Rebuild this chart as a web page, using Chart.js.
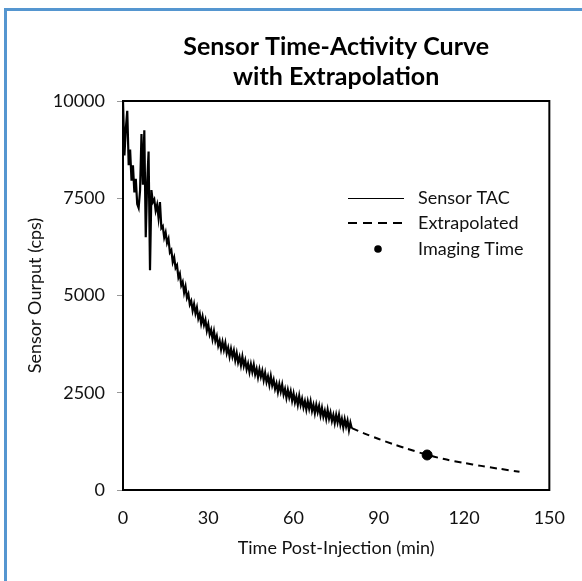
<!DOCTYPE html>
<html lang="en">
  <head>
    <meta charset="UTF-8" />
    <title>Sensor Time-Activity Curve</title>
    <script src="https://cdn.jsdelivr.net/npm/chart.js"></script>
    <style>
      body {
        margin: 0;
        padding: 0;
        background: #fff;
        overflow: hidden;
      }
      .frame {
        position: absolute;
        left: 4px;
        top: 8px;
        width: 620px;
        height: 620px;
        border: 3px solid #5596d0;
      }
      #chart {
        position: absolute;
        left: 0;
        top: 0;
      }
    </style>
  </head>
  <body>
    <div class="frame"></div>
    <canvas id="chart" width="582" height="581"></canvas>

    <script>
      // measured sensor curve (min, cps)
      const tacTime = [
        0, 0.5, 1, 1.5, 2, 2.5, 3, 3.5, 4, 4.5,
        5, 5.5, 6, 6.5, 7, 7.5, 8, 8.5, 9, 9.5,
        10, 10.5, 11, 11.5, 12, 12.5, 13, 13.5, 14, 14.5,
        15, 15.5, 16, 16.5, 17, 17.5, 18, 18.5, 19, 19.5,
        20, 20.5, 21, 21.5, 22, 22.5, 23, 23.5, 24, 24.5,
        25, 25.5, 26, 26.5, 27, 27.5, 28, 28.5, 29, 29.5,
        30, 30.5, 31, 31.5, 32, 32.5, 33, 33.5, 34, 34.5,
        35, 35.5, 36, 36.5, 37, 37.5, 38, 38.5, 39, 39.5,
        40, 40.5, 41, 41.5, 42, 42.5, 43, 43.5, 44, 44.5,
        45, 45.5, 46, 46.5, 47, 47.5, 48, 48.5, 49, 49.5,
        50, 50.5, 51, 51.5, 52, 52.5, 53, 53.5, 54, 54.5,
        55, 55.5, 56, 56.5, 57, 57.5, 58, 58.5, 59, 59.5,
        60, 60.5, 61, 61.5, 62, 62.5, 63, 63.5, 64, 64.5,
        65, 65.5, 66, 66.5, 67, 67.5, 68, 68.5, 69, 69.5,
        70, 70.5, 71, 71.5, 72, 72.5, 73, 73.5, 74, 74.5,
        75, 75.5, 76, 76.5, 77, 77.5, 78, 78.5, 79, 79.5,
        80, 80.5
      ];
      const tacCounts = [
        10000, 8600, 9300, 9750, 8350, 8750, 7950, 8350, 7650, 8000,
        7350, 7250, 7700, 9150, 7850, 9250, 6500, 7900, 8700, 5650,
        7710, 7400, 7470, 7180, 7330, 7000, 7400, 6730, 6780, 6490,
        6620, 6350, 6460, 6110, 6170, 5860, 5980, 5710, 5780, 5460,
        5560, 5260, 5350, 5070, 5230, 4940, 5040, 4770, 4860, 4610,
        4780, 4540, 4690, 4410, 4530, 4280, 4460, 4240, 4370, 4100,
        4260, 4000, 4120, 3880, 4080, 3830, 3960, 3710, 3840, 3615,
        3810, 3605, 3780, 3520, 3660, 3430, 3630, 3430, 3585, 3335,
        3520, 3280, 3425, 3205, 3430, 3190, 3335, 3105, 3250, 3030,
        3235, 3035, 3220, 2970, 3115, 2895, 3100, 2910, 3065, 2825,
        3010, 2775, 2920, 2705, 2930, 2690, 2830, 2600, 2740, 2520,
        2725, 2530, 2710, 2455, 2595, 2370, 2570, 2380, 2535, 2295,
        2480, 2250, 2400, 2190, 2420, 2190, 2345, 2125, 2280, 2070,
        2280, 2090, 2280, 2035, 2190, 1975, 2190, 2000, 2160, 1920,
        2110, 1885, 2035, 1830, 2060, 1835, 1990, 1775, 1930, 1720,
        1930, 1740, 1930, 1680, 1830, 1610, 1820, 1630, 1785, 1540,
        1730, 1580
      ];

      // extrapolated tail
      const extTime = [80.5, 85, 90, 95, 100, 107, 113, 120, 126, 132, 139.5];
      const extCounts = [1590, 1450, 1310, 1180, 1060, 905, 795, 695, 620, 550, 470];

      // imaging time marker
      const imgTime = [107];
      const imgCounts = [900];

      const xTicks = [0, 30, 60, 90, 120, 150];
      const yTicks = [0, 2500, 5000, 7500, 10000];

      const FONT = "Lato, 'Liberation Sans', sans-serif";

      const toPoints = (xs, ys) => xs.map((x, i) => ({ x: x, y: ys[i] }));

      // black box round the plot area
      const plotBox = {
        id: "plotBox",
        afterDatasetsDraw(chart) {
          const a = chart.chartArea;
          const c = chart.ctx;
          c.save();
          c.strokeStyle = "#000";
          c.lineWidth = 2;
          c.strokeRect(a.left, a.top, a.right - a.left, a.bottom - a.top);
          c.restore();
        },
      };

      // legend sits inside the plot, like the original
      const innerLegend = {
        id: "innerLegend",
        afterDraw(chart) {
          const a = chart.chartArea;
          const c = chart.ctx;
          const x0 = Math.round(a.left + 225);
          const x1 = x0 + 56;
          const tx = x0 + 70;
          const rows = [Math.round(a.top + 97), Math.round(a.top + 122), Math.round(a.top + 148)];
          c.save();
          c.strokeStyle = "#000";
          c.fillStyle = "#000";

          c.lineWidth = 1;
          c.beginPath();
          c.moveTo(x0, rows[0] + 0.5);
          c.lineTo(x1, rows[0] + 0.5);
          c.stroke();

          c.lineWidth = 2;
          c.setLineDash([9, 6]);
          c.beginPath();
          c.moveTo(x0, rows[1]);
          c.lineTo(x1, rows[1]);
          c.stroke();
          c.setLineDash([]);

          c.beginPath();
          c.arc((x0 + x1) / 2 + 2, rows[2], 3.8, 0, Math.PI * 2);
          c.fill();

          c.font = "18px " + FONT;
          c.textBaseline = "middle";
          c.fillStyle = "#111";
          const names = chart.data.datasets.map((d) => d.label);
          names.forEach((n, i) => c.fillText(n, tx, rows[i]));
          c.restore();
        },
      };

      new Chart(document.getElementById("chart"), {
        type: "scatter",
        data: {
          datasets: [
            {
              label: "Sensor TAC",
              data: toPoints(tacTime, tacCounts),
              showLine: true,
              borderColor: "#000",
              borderWidth: 2.2,
              pointRadius: 0,
              tension: 0,
            },
            {
              label: "Extrapolated",
              data: toPoints(extTime, extCounts),
              showLine: true,
              borderColor: "#000",
              borderWidth: 2,
              borderDash: [7, 5],
              pointRadius: 0,
              tension: 0.3,
            },
            {
              label: "Imaging Time",
              data: toPoints(imgTime, imgCounts),
              pointRadius: 5,
              backgroundColor: "#000",
              borderColor: "#000",
            },
          ],
        },
        options: {
          responsive: false,
          animation: false,
          layout: { padding: { left: 10, right: 30, top: 20, bottom: 20 } },
          plugins: {
            legend: { display: false },
            tooltip: { enabled: false },
            title: {
              display: true,
              fullSize: false,
              text: ["Sensor Time-Activity Curve", "with Extrapolation"],
              color: "#000",
              font: { family: FONT, size: 25, weight: "bold", lineHeight: 1.2 },
              padding: { top: 12, bottom: 9 },
            },
          },
          scales: {
            x: {
              type: "linear",
              min: 0,
              max: 150,
              afterBuildTicks: (s) => {
                s.ticks = xTicks.map((v) => ({ value: v }));
              },
              ticks: {
                color: "#111",
                padding: 17,
                font: { family: FONT, size: 18 },
                callback: (v) => String(v),
              },
              grid: { display: false, drawTicks: false },
              border: { display: false },
              title: {
                display: true,
                text: "Time Post-Injection (min)",
                color: "#111",
                font: { family: FONT, size: 18 },
                padding: { top: 0, bottom: 2 },
              },
              afterFit: (s) => {
                s.height = 71;
              },
            },
            y: {
              min: 0,
              max: 10000,
              afterBuildTicks: (s) => {
                s.ticks = yTicks.map((v) => ({ value: v }));
              },
              ticks: {
                color: "#111",
                padding: 12,
                font: { family: FONT, size: 18 },
                callback: (v) => String(v),
              },
              grid: {
                drawOnChartArea: false,
                tickLength: 6,
                color: "#999",
              },
              border: { display: false },
              title: {
                display: true,
                text: "Sensor Ourput (cps)",
                color: "#111",
                font: { family: FONT, size: 18 },
                padding: { top: 14, bottom: 0 },
              },
              afterFit: (s) => {
                s.width = 113;
              },
            },
          },
        },
        plugins: [plotBox, innerLegend],
      });
    </script>
  </body>
</html>
